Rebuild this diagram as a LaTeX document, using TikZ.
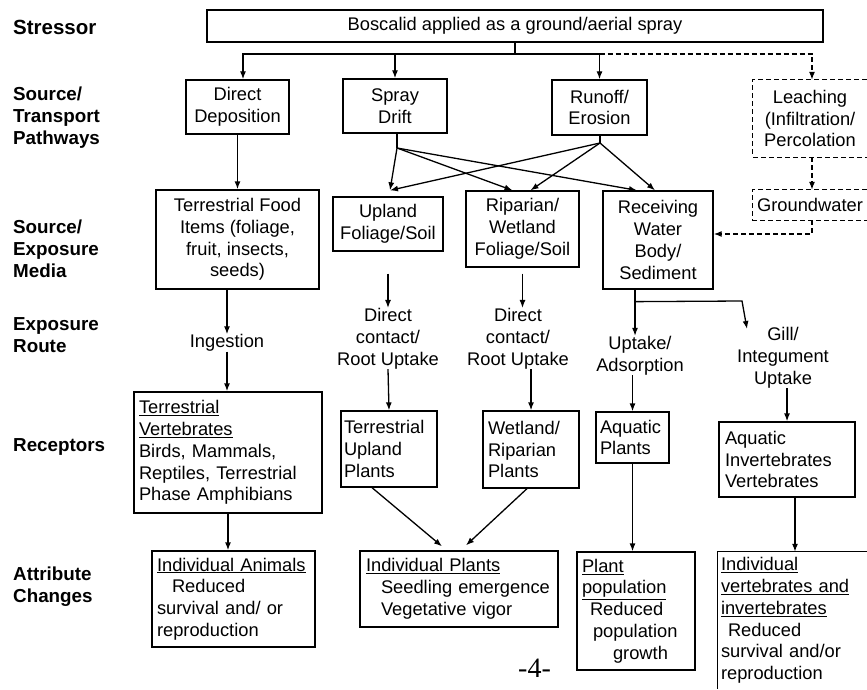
\documentclass[tikz,border=0pt]{standalone}
\usepackage{fontspec}
\setmainfont{Liberation Sans}
\newfontfamily\pagenumfont{Liberation Serif}
\usetikzlibrary{arrows.meta,calc}
\begin{document}
\begin{tikzpicture}[x=1pt,y=-1pt,
  every node/.style={font=\fontsize{18.3}{21.8}\selectfont},
  box/.style={draw, line width=1.3pt, inner sep=0pt, align=center},
  lbox/.style={draw, line width=1.3pt, inner ysep=0pt, align=left},
  openbox/.style={draw=none, inner sep=0pt, align=center},
  olbox/.style={draw=none, inner ysep=0pt, align=left},
  lab/.style={anchor=west, align=left, inner sep=0pt, font=\fontsize{18.8}{22}\selectfont\bfseries},
  route/.style={inner sep=0pt, align=center},
  ln/.style={line width=1.3pt},
  arr/.style={line width=1.3pt, -{Latex[length=8pt,width=6pt]}},
  darr/.style={arr, dash pattern=on 5pt off 3pt},
  dln/.style={ln, dash pattern=on 5pt off 3pt},
]
\useasboundingbox (0,0) rectangle (867,690);
\fill[white] (0,0) rectangle (867,690);

% left labels
\node[lab, font=\fontsize{20.5}{22}\selectfont\bfseries] (lstress) at (13,27) {Stressor};
\node[lab] (lsrc) at (13,118) {Source/\\Transport\\Pathways};
\node[lab] (lmed) at (13,249) {Source/\\Exposure\\Media};
\node[lab] (lroute) at (13,335.5) {Exposure\\Route};
\node[lab] (lrec) at (13,447) {Receptors};
\node[lab] (lattr) at (13,586.5) {Attribute\\Changes};

% stressor
\node[box, minimum width=616pt, minimum height=32pt] (stressor) at (515,26) {Boscalid applied as a ground/aerial spray};

% transport pathways
\node[box, minimum width=103pt, minimum height=54pt] (direct) at (237.5,107) {Direct\\Deposition};
\node[box, minimum width=104pt, minimum height=54pt] (spray) at (395,106) {Spray\\Drift};
\node[box, minimum width=95pt, minimum height=55pt] (runoff) at (599.5,107.5) {Runoff/\\Erosion};
\node[openbox, minimum width=114pt, minimum height=77pt] (leach) at (810,118.5) {Leaching\\(Infiltration/\\Percolation};
\draw[dln] (leach.north east) -- (leach.north west) -- (leach.south west) -- (leach.south east);

% exposure media
\node[box, minimum width=163pt, minimum height=99pt] (tfood) at (237.5,239.5) {Terrestrial Food\\Items (foliage,\\fruit, insects,\\seeds)};
\node[box, minimum width=110pt, minimum height=54pt] (upland) at (388,224) {Upland\\Foliage/Soil};
\node[box, minimum width=113pt, minimum height=76pt] (riparian) at (522.5,229) {Riparian/\\Wetland\\Foliage/Soil};
\node[box, minimum width=110pt, minimum height=98pt] (recv) at (658,240) {Receiving\\Water\\Body/\\Sediment};
\node[openbox, minimum width=114pt, minimum height=30pt] (ground) at (810,205) {Groundwater};
\draw[dln] (ground.north east) -- (ground.north west) -- (ground.south west) -- (ground.south east);

% exposure routes
\node[route] (ingest) at (227,343) {Ingestion};
\node[route] (dc1) at (388,338.5) {Direct\\contact/\\Root Uptake};
\node[route] (dc2) at (518,338.5) {Direct\\contact/\\Root Uptake};
\node[route] (uptake) at (640,355.5) {Uptake/\\Adsorption};
\node[route] (gill) at (783,357.5) {Gill/\\Integument\\Uptake};

% receptors
\node[lbox, text width=178pt, inner xsep=5pt, minimum height=121pt] (tverts) at (228,452.5)
  {\underline{Terrestrial}\\\underline{Vertebrates}\\Birds, Mammals,\\Reptiles, Terrestrial\\Phase Amphibians};
\node[lbox, text width=90pt, inner xsep=3pt, minimum height=76pt] (tupland) at (389,449) {Terrestrial\\Upland\\Plants};
\node[lbox, text width=86pt, inner xsep=5pt, minimum height=77pt] (wetland) at (531,449.5) {Wetland/\\Riparian\\Plants};
\node[lbox, text width=65pt, inner xsep=4pt, minimum height=51pt] (aplants) at (632.5,437.5) {Aquatic\\Plants};
\node[lbox, text width=124pt, inner xsep=6pt, minimum height=75pt] (ainv) at (787,459.5) {Aquatic\\Invertebrates\\Vertebrates};

% attribute changes
\node[lbox, text width=153pt, inner xsep=5pt, minimum height=96pt] (indanimals) at (233.5,599)
  {\underline{Individual Animals}\\\hspace*{15pt}Reduced\\survival and/ or\\reproduction};
\node[lbox, text width=186pt, inner xsep=6pt, minimum height=76pt] (indplants) at (459,589)
  {\underline{Individual Plants}\\\hspace*{15pt}Seedling emergence\\\hspace*{15pt}Vegetative vigor};
\node[lbox, text width=108pt, inner xsep=5pt, minimum height=118pt] (plantpop) at (636,611)
  {\underline{Plant}\\\underline{population}\\\hspace*{8pt}Reduced\\\hspace*{11pt}population\\\hspace*{31pt}growth};
\node[olbox, text width=143pt, inner xsep=3pt, minimum height=137pt] (indvert) at (792.5,620.5)
  {\underline{Individual}\\\underline{vertebrates and}\\\underline{invertebrates}\\\hspace*{7pt}Reduced\\survival and/or\\reproduction};
\draw[ln] (indvert.north east) -- (indvert.north west) -- (indvert.south west);

\node[inner sep=0pt, font=\fontsize{28}{30}\pagenumfont] (page) at (534.5,668) {-4-};

% connectors: stressor to pathways
\coordinate (bus) at (515,54);
\draw[ln] (stressor.south) -- (bus);
\draw[arr] (bus) -| ([xshift=5.5pt]direct.north);
\draw[arr] (spray.north |- bus) -- (spray.north);
\draw[arr] (bus) -| (runoff.north);
\draw[darr] (runoff.north |- bus) -| ([xshift=2pt]leach.north);
\draw[darr] ([xshift=2pt]leach.south) -- ([xshift=2pt]ground.north);
\draw[darr] ([xshift=2pt]ground.south) |- ([yshift=6pt]recv.east);

% pathways to media
\draw[arr] (direct.south) -- (tfood.north);
\coordinate (sj) at (397,148);
\draw[ln] (spray.south -| sj) -- (sj);
\draw[arr] (sj) -- ([xshift=2pt,yshift=6pt]upland.north);
\draw[arr] (sj) -- ([xshift=-10pt]riparian.north);
\draw[arr] (sj) -- ([xshift=-21pt]recv.north);
\coordinate (rj) at (600,143);
\draw[ln] (runoff.south -| rj) -- (rj);
\draw[arr] (rj) -- ([xshift=2pt,yshift=6pt]upland.north);
\draw[arr] (rj) -- ([xshift=8pt]riparian.north);
\draw[arr] (rj) -- ([xshift=-3pt]recv.north);

% media to routes
\draw[arr] (tfood.south -| ingest) -- (ingest.north);
\draw[arr, shorten <=22pt] (upland.south -| dc1) -- (dc1.north);
\draw[arr, shorten <=6pt] (riparian.south) -- (riparian.south |- dc2.north);
\coordinate (rs) at ([xshift=-23pt]recv.south);
\draw[arr] (rs) -- (rs |- uptake.north);
\coordinate (rb) at ($(rs)+(0,12)$);
\coordinate (gk) at (742,301);
\draw[arr] (rb) -- (gk) -- ([xshift=-36pt,yshift=-2pt]gill.north);

% routes to receptors
\draw[arr] (ingest.south) -- (ingest.south |- tverts.north);
\draw[arr] (dc1.south) -- (tupland.north);
\draw[arr] (wetland.north |- dc2.south) -- (wetland.north);
\draw[arr] (aplants.north |- uptake.south) -- (aplants.north);
\draw[arr] (ainv.north |- gill.south) -- (ainv.north);

% receptors to attribute changes
\draw[arr] (tverts.south) -- (tverts.south |- indanimals.north);
\draw[arr] ([xshift=-17pt]tupland.south) -- ([xshift=-17pt,yshift=4pt]indplants.north);
\draw[arr] ([xshift=-4pt]wetland.south) -- ([xshift=7pt,yshift=5pt]indplants.north);
\draw[arr] (aplants.south) -- (aplants.south |- plantpop.north);
\coordinate (as) at ([xshift=8pt]ainv.south);
\draw[arr] (as) -- (as |- indvert.north);
\end{tikzpicture}
\end{document}
